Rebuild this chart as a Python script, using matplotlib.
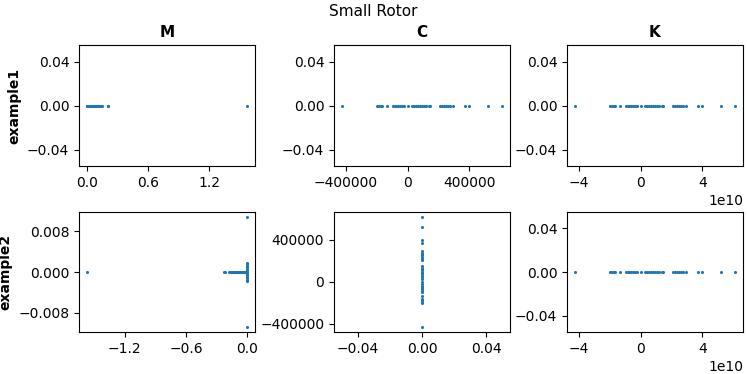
import matplotlib.pyplot as plt
from matplotlib.ticker import MaxNLocator

m1_re = [0.003, 0.006, 0.01, 0.015, 0.02, 0.026, 0.032, 0.04, 0.047, 0.055,
         0.063, 0.07, 0.078, 0.086, 0.094, 0.102, 0.11, 0.118, 0.126, 0.134,
         0.142, 0.15, 0.205, 0.212, 1.571]
m1_im = [0.0] * len(m1_re)

c_vals = [-426000, -198000, -187000, -176000, -166000, -133000, -97000, -84000,
          -73000, -62000, -52000, -39000, -26000, 0, 28000, 41000, 54000, 69000,
          82000, 95000, 108000, 120000, 135000, 146000, 206000, 219000, 232000,
          250000, 264000, 275000, 292000, 368000, 394000, 520000, 611000]

k_vals = [-4.26e10, -1.98e10, -1.87e10, -1.76e10, -1.66e10, -1.33e10, -0.97e10,
          -0.84e10, -0.73e10, -0.62e10, -0.52e10, -0.39e10, -0.26e10, 0.0,
          0.28e10, 0.41e10, 0.54e10, 0.69e10, 0.82e10, 0.95e10, 1.08e10,
          1.20e10, 1.35e10, 1.46e10, 2.06e10, 2.19e10, 2.32e10, 2.50e10,
          2.64e10, 2.75e10, 2.92e10, 3.68e10, 3.94e10, 5.20e10, 6.11e10]

m2_re = [-1.571, -0.23, -0.22, -0.18, -0.17, -0.16, -0.15, -0.14, -0.13, -0.12,
         -0.11, -0.1, -0.09, -0.08, -0.07, -0.06, -0.05, -0.04, -0.03, -0.02,
         -0.01, 0.0, 0.0, 0.0, 0.0, 0.0, 0.0, 0.0, 0.0, 0.0, 0.0, 0.0, 0.0,
         0.0, 0.0, 0.0]
m2_im = [0.0, 0.0, 0.0, 0.0, 0.0, 0.0, 0.0, 0.0, 0.0, 0.0,
         0.0, 0.0, 0.0, 0.0, 0.0, 0.0, 0.0, 0.0, 0.0, 0.0,
         0.0, 0.0107, -0.0107, 0.0018, -0.0018, 0.0015, -0.0015, 0.0012,
         -0.0012, 0.0009, -0.0009, 0.0006, -0.0006, 0.0003, -0.0003, 0.0]

rows = ['example1', 'example2']
cols = ['M', 'C', 'K']

data = [
    [(m1_re, m1_im), (c_vals, [0.0] * len(c_vals)), (k_vals, [0.0] * len(k_vals))],
    [(m2_re, m2_im), ([0.0] * len(c_vals), c_vals), (k_vals, [0.0] * len(k_vals))],
]

W, H = 747, 374
col_x = [79, 334, 567]
row_y = [(45, 166), (212, 332)]
ax_w = 176

fig, axes = plt.subplots(2, 3, figsize=(7.47, 3.74), dpi=100)

for i in range(2):
    for j in range(3):
        ax = axes[i, j]
        top, bot = row_y[i]
        ax.set_position([col_x[j] / W, 1 - bot / H, ax_w / W, (bot - top) / H])
        x, y = data[i][j]
        ax.scatter(x, y, s=1.5, color='tab:blue')
        ax.xaxis.set_major_locator(MaxNLocator(3))
        ax.yaxis.set_major_locator(MaxNLocator(3))
        ax.tick_params(labelsize=10)
        ax.xaxis.get_offset_text().set_fontsize(10)
        if i == 0:
            ax.set_title(cols[j], fontweight='bold', fontsize=11)
        if j == 0:
            ax.set_ylabel(rows[i], fontweight='bold', fontsize=10)

fig.suptitle('Small Rotor', fontsize=11, y=0.99)
fig.savefig('out.png', dpi=100)
